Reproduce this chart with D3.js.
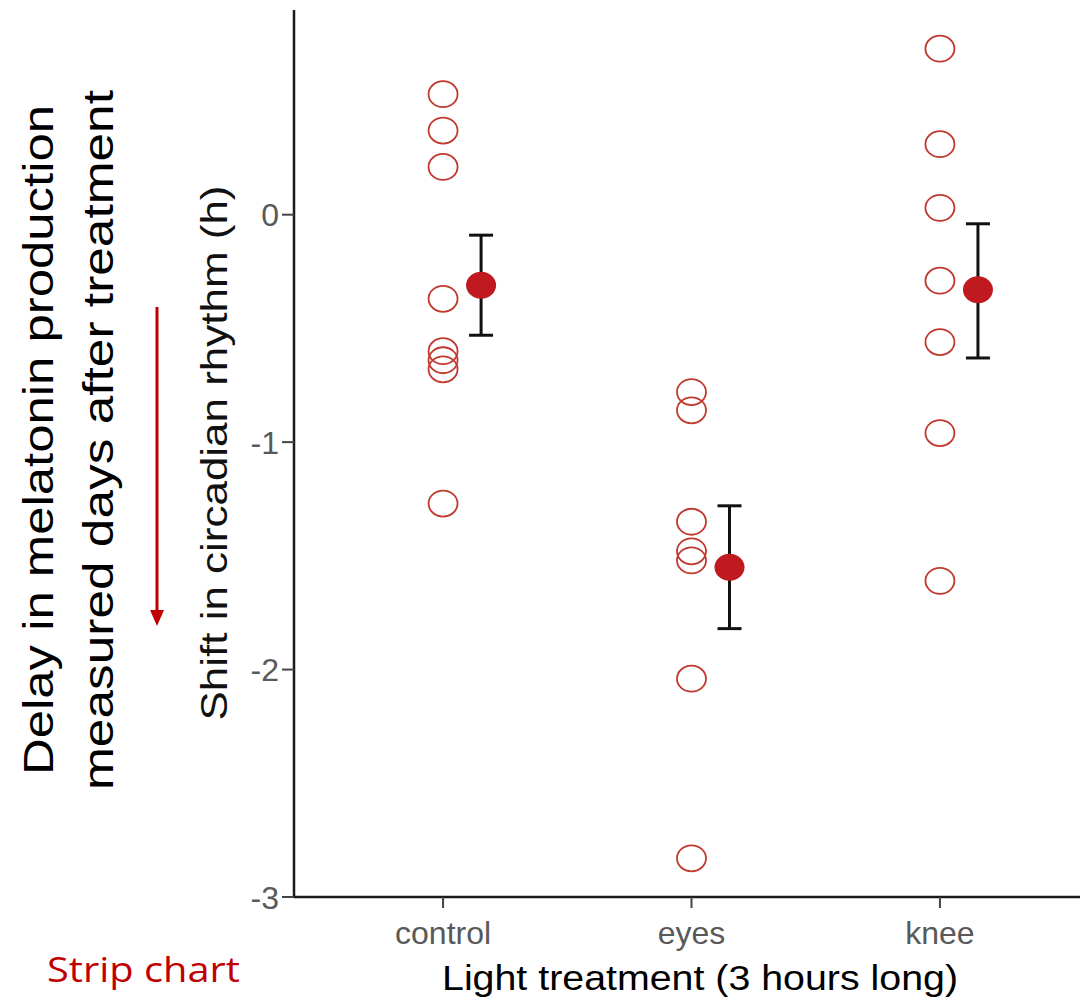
<!DOCTYPE html>
<html lang="en">
  <head>
    <meta charset="UTF-8" />
    <title>Strip chart - circadian shift</title>
    <script src="https://d3js.org/d3.v7.min.js"></script>
    <style>
      body {
        margin: 0;
        background: #fff;
      }
      svg text {
        font-family: "Liberation Sans", Arial, sans-serif;
      }
      .tick-label {
        fill: #595959;
        font-size: 32px;
      }
    </style>
  </head>
  <body>
    <svg width="1080" height="998"></svg>

    <script>
      // values
      const groups = ["control", "eyes", "knee"];
      const controlShift = [0.53, 0.37, 0.21, -0.37, -0.6, -0.64, -0.68, -1.27];
      const eyesShift = [-0.78, -0.86, -1.35, -1.48, -1.52, -2.04, -2.83];
      const kneeShift = [0.73, 0.31, 0.03, -0.29, -0.56, -0.96, -1.61];
      const groupMeans = [-0.31, -1.55, -0.33];
      const barLow = [-0.53, -1.82, -0.63];
      const barHigh = [-0.09, -1.28, -0.04];
      const yTicks = [0, -1, -2, -3];

      const shifts = [controlShift, eyesShift, kneeShift];
      const points = [];
      groups.forEach((g, i) => shifts[i].forEach((v) => points.push({ group: g, value: v })));
      const summary = groups.map((g, i) => ({
        group: g,
        mean: groupMeans[i],
        low: barLow[i],
        high: barHigh[i],
      }));

      const svg = d3.select("svg");
      const axisX = 294;
      const axisY = 897;
      const red = "#c0392f";
      const darkRed = "#c00000";

      const x = d3.scalePoint().domain(groups).range([axisX, 1089]).padding(0.6);
      const y = d3.scaleLinear().domain([-3, 0.9]).range([axisY, 10]);
      const meanOffset = x.step() * 0.153;

      // y axis
      const yAxis = svg.append("g").attr("transform", `translate(${axisX},0)`);
      yAxis
        .append("line")
        .attr("x1", 0)
        .attr("x2", 0)
        .attr("y1", y.range()[1])
        .attr("y2", axisY)
        .attr("stroke", "#1a1a1a")
        .attr("stroke-width", 2.5);
      yAxis
        .selectAll(".ytick")
        .data(yTicks)
        .enter()
        .append("line")
        .attr("x1", -12)
        .attr("x2", 0)
        .attr("y1", (d) => y(d))
        .attr("y2", (d) => y(d))
        .attr("stroke", "#444")
        .attr("stroke-width", 2);
      yAxis
        .selectAll(".tick-label")
        .data(yTicks)
        .enter()
        .append("text")
        .attr("class", "tick-label")
        .attr("x", -15)
        .attr("y", (d) => y(d))
        .attr("dy", "0.36em")
        .attr("text-anchor", "end")
        .text((d) => d);

      // x axis
      const xAxis = svg.append("g").attr("transform", `translate(0,${axisY})`);
      xAxis
        .append("line")
        .attr("x1", axisX)
        .attr("x2", 1080)
        .attr("stroke", "#1a1a1a")
        .attr("stroke-width", 2.5);
      xAxis
        .selectAll(".xtick")
        .data(groups)
        .enter()
        .append("line")
        .attr("x1", (d) => x(d))
        .attr("x2", (d) => x(d))
        .attr("y1", 0)
        .attr("y2", 11)
        .attr("stroke", "#444")
        .attr("stroke-width", 2);
      xAxis
        .selectAll(".tick-label")
        .data(groups)
        .enter()
        .append("text")
        .attr("class", "tick-label")
        .attr("x", (d) => x(d))
        .attr("y", 47)
        .attr("text-anchor", "middle")
        .text((d) => d);

      // raw points
      svg
        .append("g")
        .selectAll("ellipse")
        .data(points)
        .enter()
        .append("ellipse")
        .attr("cx", (d) => x(d.group))
        .attr("cy", (d) => y(d.value))
        .attr("rx", 14.5)
        .attr("ry", 13)
        .attr("fill", "none")
        .attr("stroke", red)
        .attr("stroke-width", 1.8);

      // error bars + means
      const sg = svg.append("g").selectAll("g").data(summary).enter().append("g");
      sg.append("line")
        .attr("x1", (d) => x(d.group) + meanOffset)
        .attr("x2", (d) => x(d.group) + meanOffset)
        .attr("y1", (d) => y(d.low))
        .attr("y2", (d) => y(d.high))
        .attr("stroke", "#111")
        .attr("stroke-width", 3);
      ["low", "high"].forEach((k) => {
        sg.append("line")
          .attr("x1", (d) => x(d.group) + meanOffset - 12)
          .attr("x2", (d) => x(d.group) + meanOffset + 12)
          .attr("y1", (d) => y(d[k]))
          .attr("y2", (d) => y(d[k]))
          .attr("stroke", "#111")
          .attr("stroke-width", 3);
      });
      sg.append("ellipse")
        .attr("cx", (d) => x(d.group) + meanOffset)
        .attr("cy", (d) => y(d.mean))
        .attr("rx", 15)
        .attr("ry", 13.5)
        .attr("fill", "#c0191f");

      // axis titles
      svg
        .append("text")
        .attr("transform", "translate(227,453) rotate(-90)")
        .attr("text-anchor", "middle")
        .attr("font-size", 36)
        .attr("textLength", 535)
        .attr("lengthAdjust", "spacingAndGlyphs")
        .attr("fill", "#111")
        .text("Shift in circadian rhythm (h)");

      svg
        .append("text")
        .attr("x", 700)
        .attr("y", 990)
        .attr("text-anchor", "middle")
        .attr("font-size", 35)
        .attr("textLength", 516)
        .attr("lengthAdjust", "spacingAndGlyphs")
        .attr("fill", "#000")
        .text("Light treatment (3 hours long)");

      // annotation on the left
      const note = [
        { text: "Delay in melatonin production", x: 53, len: 670 },
        { text: "measured days after treatment", x: 113, len: 700 },
      ];
      svg
        .selectAll(".note")
        .data(note)
        .enter()
        .append("text")
        .attr("transform", (d) => `translate(${d.x},440) rotate(-90)`)
        .attr("text-anchor", "middle")
        .attr("font-size", 42)
        .attr("textLength", (d) => d.len)
        .attr("lengthAdjust", "spacingAndGlyphs")
        .attr("fill", "#000")
        .text((d) => d.text);

      svg
        .append("line")
        .attr("x1", 157)
        .attr("x2", 157)
        .attr("y1", 307)
        .attr("y2", 612)
        .attr("stroke", darkRed)
        .attr("stroke-width", 3);
      svg
        .append("path")
        .attr("d", "M150,610 L164,610 L157,626 Z")
        .attr("fill", darkRed);

      svg
        .append("text")
        .attr("x", 47)
        .attr("y", 982)
        .attr("font-size", 34)
        .attr("textLength", 193)
        .attr("lengthAdjust", "spacingAndGlyphs")
        .attr("fill", darkRed)
        .style("font-family", "'Open Sans', sans-serif")
        .text("Strip chart");
    </script>
  </body>
</html>
